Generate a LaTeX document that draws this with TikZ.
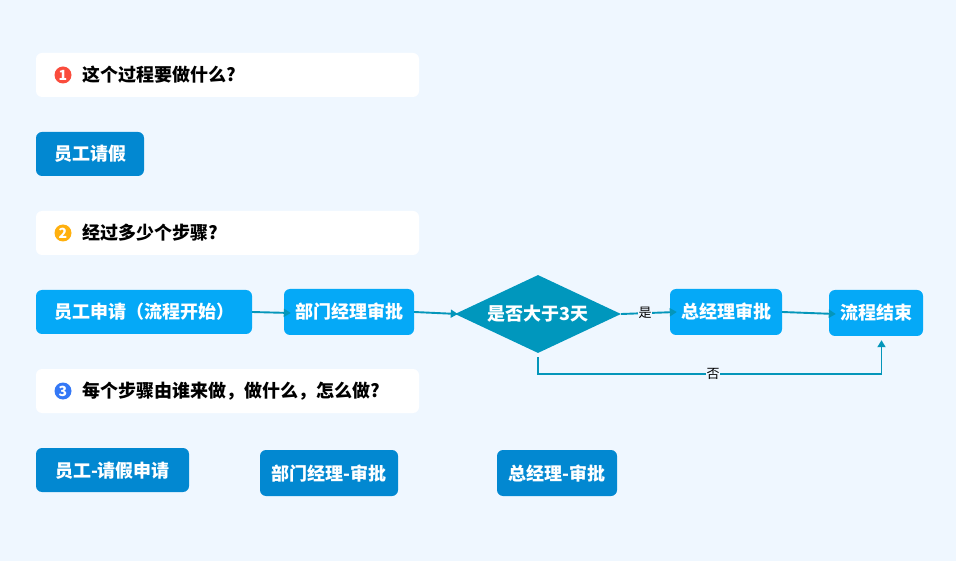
\documentclass[tikz,border=0pt]{standalone}
\usepackage{fontspec}
\usepackage{xcolor}
\usetikzlibrary{arrows.meta,calc,positioning,shapes.geometric}
\setmainfont{Noto Sans CJK SC}
\definecolor{pagebg}{RGB}{239,247,255}
\definecolor{taskdark}{RGB}{2,136,209}
\definecolor{steplight}{RGB}{5,169,247}
\definecolor{decisionteal}{RGB}{0,151,189}
\definecolor{flowline}{RGB}{4,150,186}
\definecolor{badgered}{RGB}{250,76,60}
\definecolor{badgeyellow}{RGB}{255,176,14}
\definecolor{badgeblue}{RGB}{52,120,246}

\begin{document}
\begin{tikzpicture}[
    x=1pt, y=-1pt,
    question box/.style={fill=white, rounded corners=6pt, minimum width=383pt, minimum height=44pt, inner sep=0pt},
    question text/.style={anchor=west, font=\fontsize{18}{20}\selectfont\bfseries, text=black, inner sep=0pt},
    badge/.style={circle, minimum size=17pt, inner sep=0pt, text=white, font=\fontsize{14}{14}\selectfont\bfseries},
    box text/.style={text=white, inner sep=0pt, text height=15pt, text depth=1pt, font=\fontsize{18}{20}\selectfont\bfseries},
    task/.style={box text, fill=taskdark, rounded corners=6pt},
    stepbox/.style={box text, fill=steplight, rounded corners=6pt},
    flow/.style={draw=flowline, line width=1.9pt, -{Triangle[length=7pt,width=8pt]}},
    flow label/.style={fill=pagebg, inner sep=0.5pt, text=black, font=\fontsize{13}{13}\selectfont}
]

% Background
\fill[pagebg] (0,0) rectangle (956,561);
\useasboundingbox (0,0) rectangle (956,561);

% === Question 1 ===
\node[question box] (q1) at (227.5,75) {};
\node[badge, fill=badgered] (b1) at (63,75) {1};
\node[question text] (t1) at (82,75) {这个过程要做什么?};
\node[task, minimum width=108pt, minimum height=44pt] (leave) at (90,154) {员工请假};

% === Question 2 ===
\node[question box] (q2) at (227.5,233) {};
\node[badge, fill=badgeyellow] (b2) at (63,233) {2};
\node[question text] (t2) at (82,233) {经过多少个步骤?};

% Flow steps
\node[stepbox, minimum width=216pt, minimum height=44pt] (apply) at (144,312) {员工申请（流程开始）};
\node[stepbox, minimum width=130pt, minimum height=46pt] (dept) at (349,312) {部门经理审批};
\node[diamond, aspect=2.13, box text, fill=decisionteal, minimum width=166pt, minimum height=78pt] (days) at (538,314) {是否大于3天};
\node[stepbox, minimum width=112pt, minimum height=46pt] (boss) at (726,312) {总经理审批};
\node[stepbox, minimum width=94pt, minimum height=46pt] (finish) at (876,313) {流程结束};

% Connectors end a little inside the next shape
\draw[flow] (apply.east) -- ($(dept.west)+(7,1)$);
\draw[flow] (dept.east) -- ($(days.west)+(3,0)$);
\draw[flow] (days.east) -- ($(boss.west)+(7,0)$);
\node[flow label] (yes) at (645,313) {是};
\draw[flow] (boss.east) -- ($(finish.west)+(7,1)$);

% The no branch runs under the diamond
\coordinate (nostart) at ($(days.south)+(0,4)$);
\coordinate (noend) at ($(finish.south)+(5.5,4)$);
\draw[flow] (nostart) |- (noend |- 0,374) -- (noend);
\node[flow label] (no) at (713,374) {否};

% === Question 3 ===
\node[question box] (q3) at (227.5,391) {};
\node[badge, fill=badgeblue] (b3) at (63,391) {3};
\node[question text] (t3) at (82,391) {每个步骤由谁来做，做什么，怎么做?};

% Roles
\node[task, minimum width=153pt, minimum height=44pt] (role1) at (112.5,470) {员工-请假申请};
\node[task, minimum width=138pt, minimum height=46pt] (role2) at (329,473) {部门经理-审批};
\node[task, minimum width=120pt, minimum height=46pt] (role3) at (557,473) {总经理-审批};

\end{tikzpicture}
\end{document}
